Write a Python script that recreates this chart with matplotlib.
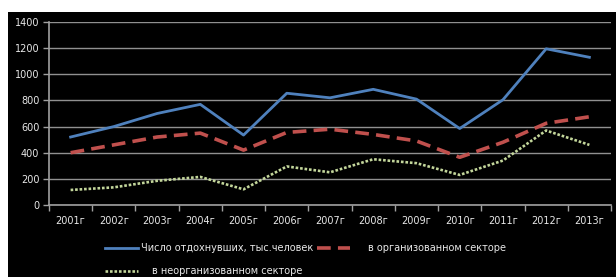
import matplotlib.pyplot as plt
from matplotlib.patches import Rectangle

# годы и значения (тыс. человек)
years = ['2001г', '2002г', '2003г', '2004г', '2005г', '2006г', '2007г',
         '2008г', '2009г', '2010г', '2011г', '2012г', '2013г']
total = [520, 600, 700, 770, 535, 855, 820, 885, 810, 585, 805, 1195, 1130]
organized = [400, 460, 520, 550, 420, 555, 580, 540, 490, 365, 480, 625, 675]
unorganized = [115, 135, 185, 215, 120, 295, 250, 350, 320, 230, 340, 570, 460]

W, H = 616, 277
fig = plt.figure(figsize=(W / 100, H / 100), dpi=100)
fig.patch.set_facecolor('white')
# черный фон под диаграммой (сверху и слева узкая белая полоса)
fig.patches.append(Rectangle((8 / W, 0), 1 - 8 / W, (H - 12) / H,
                             transform=fig.transFigure, facecolor='black',
                             edgecolor='none', zorder=-1))

ax = fig.add_axes([49 / W, (H - 205) / H, (611 - 49) / W, (205 - 22) / H])
ax.set_facecolor('black')

x = range(len(years))
l_total, = ax.plot(x, total, color='#4f81bd', lw=2.0)
l_org, = ax.plot(x, organized, color='#c0504d', lw=2.6, linestyle=(0, (3.8, 2)))
l_unorg, = ax.plot(x, unorganized, color='#c3d69b', lw=1.9, linestyle=(0, (1, 0.7)))

ax.set_xlim(-0.5, len(years) - 0.5)
ax.set_ylim(0, 1400)
ax.set_yticks(range(0, 1401, 200))
ax.set_xticks(list(x))
ax.set_xticklabels(years)
ax.set_xticks([i - 0.5 for i in range(len(years) + 1)], minor=True)
ax.tick_params(axis='x', which='major', length=0, pad=8, labelsize=7, labelcolor='#e8e8e8')
ax.tick_params(axis='x', which='minor', length=4, color='#a0a0a0', width=1)
ax.tick_params(axis='y', length=4, color='#a0a0a0', width=1, labelsize=7, labelcolor='#e8e8e8', pad=3)

ax.grid(axis='y', color='#909090', lw=1)
ax.set_axisbelow(True)
for side in ['top', 'right']:
    ax.spines[side].set_visible(False)
ax.spines['left'].set_color('#a0a0a0')
ax.spines['bottom'].set_color('#a0a0a0')
ax.spines['left'].set_linewidth(1.2)
ax.spines['bottom'].set_linewidth(1.2)

# легенда как в Excel: каждый элемент отдельно
entries = [
    (l_total, 'Число отдохнувших, тыс.человек', 105, 248, 0.3),
    (l_org, 'в организованном секторе', 317, 248, 1.8),
    (l_unorg, 'в неорганизованном секторе', 105, 271, 1.4),
]
for handle, text, px, py, pad in entries:
    leg = fig.legend([handle], [text], loc='center left',
                     bbox_to_anchor=(px / W, 1 - py / H), frameon=False,
                     fontsize=7, handlelength=3.4, handletextpad=pad,
                     borderpad=0, borderaxespad=0)
    for t in leg.get_texts():
        t.set_color('#e8e8e8')

plt.savefig('out.png', dpi=100, facecolor=fig.get_facecolor())
